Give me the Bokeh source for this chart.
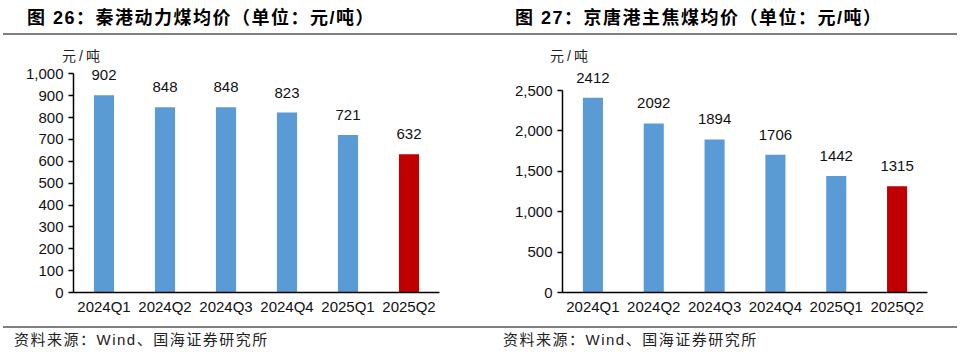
from bokeh.plotting import figure
from bokeh.models import (ColumnDataSource, LabelSet, Div, NumeralTickFormatter,
                          FixedTicker, Range1d)
from bokeh.core.properties import value
from bokeh.layouts import row, column
from bokeh.embed import file_html
from bokeh.resources import INLINE

# ---------------- data ----------------
categories = ["2024Q1", "2024Q2", "2024Q3", "2024Q4", "2025Q1", "2025Q2"]
qinhuangdao_thermal_coal = [902, 848, 848, 823, 721, 632]
jingtang_coking_coal = [2412, 2092, 1894, 1706, 1442, 1315]
left_ticks = [0, 100, 200, 300, 400, 500, 600, 700, 800, 900, 1000]
right_ticks = [0, 500, 1000, 1500, 2000, 2500]
left_title = "图 26：秦港动力煤均价（单位：元/吨）"
right_title = "图 27：京唐港主焦煤均价（单位：元/吨）"
unit_text = "元/吨"
source_text = "资料来源：Wind、国海证券研究所"

BLUE = "#5B9BD5"
RED = "#C00000"
FONT = "'Liberation Sans', 'Noto Sans CJK SC', sans-serif"


def make_panel(values, ticks, y_end, border_left, border_right):
    colors = [BLUE] * (len(values) - 1) + [RED]
    src = ColumnDataSource(dict(cat=categories, val=values, color=colors,
                                label=[str(v) for v in values]))
    p = figure(x_range=categories, y_range=Range1d(0, y_end),
               width=480, height=264, output_backend="svg", toolbar_location=None,
               min_border_left=border_left, min_border_right=border_right,
               min_border_top=2, min_border_bottom=34)
    p.vbar(x="cat", top="val", width=0.33, fill_color="color", line_color=None, source=src)
    labels = LabelSet(x="cat", y="val", text="label", source=src, y_offset=15,
                      text_align="center", text_baseline="alphabetic",
                      text_font=value("Liberation Sans"), text_font_size="15px",
                      text_color="#111111")
    p.add_layout(labels)

    p.xgrid.grid_line_color = None
    p.ygrid.grid_line_color = None
    p.outline_line_color = None
    p.background_fill_color = "white"
    p.border_fill_color = "white"

    ya = p.yaxis[0]
    ya.ticker = FixedTicker(ticks=ticks)
    ya.formatter = NumeralTickFormatter(format="0,0")
    ya.bounds = (0, ticks[-1])
    ya.minor_tick_line_color = None
    ya.major_tick_in = 0
    ya.major_tick_out = 5
    ya.major_tick_line_color = "#000000"
    ya.major_tick_line_width = 1.5
    ya.axis_line_color = "#000000"
    ya.axis_line_width = 1.5
    ya.major_label_standoff = 5
    ya.major_label_text_font = "Liberation Sans"
    ya.major_label_text_font_size = "15px"
    ya.major_label_text_color = "#111111"

    xa = p.xaxis[0]
    xa.major_tick_in = 0
    xa.major_tick_out = 0
    xa.minor_tick_line_color = None
    xa.axis_line_color = "#000000"
    xa.axis_line_width = 1.5
    xa.major_label_standoff = 5
    xa.major_label_text_font = "Liberation Sans"
    xa.major_label_text_font_size = "15px"
    xa.major_label_text_color = "#111111"
    return p


left = make_panel(qinhuangdao_thermal_coal, left_ticks, 1043, 73, 41)
right = make_panel(jingtang_coking_coal, right_ticks, 2822, 82, 33)


def box(left_px, top_px, width_px, height_px, style, text=""):
    return (f'<div style="position:absolute;left:{left_px}px;top:{top_px}px;'
            f'width:{width_px}px;height:{height_px}px;{style}">{text}</div>')


title_style = "font-size:18px;font-weight:bold;letter-spacing:1.5px;white-space:nowrap;line-height:28px;"
unit_style = "font-size:14px;letter-spacing:3px;white-space:nowrap;line-height:20px;color:#222;"
src_style = "font-size:15px;letter-spacing:1.5px;white-space:nowrap;line-height:24px;"

header_html = (
    f'<div style="position:relative;width:960px;height:62px;font-family:{FONT};color:#000;">'
    + box(27, 4, 430, 28, title_style, left_title)
    + box(515, 4, 440, 28, title_style, right_title)
    + box(3, 33, 954, 2, "background:#808080;")
    + box(62, 46, 70, 20, unit_style, unit_text)
    + box(550, 46, 70, 20, unit_style, unit_text)
    + '</div>'
)
footer_html = (
    f'<div style="position:relative;width:960px;height:26px;font-family:{FONT};color:#222;">'
    + box(3, 0, 954, 2, "background:#808080;")
    + box(14, 2, 420, 24, src_style, source_text)
    + box(503, 2, 420, 24, src_style, source_text)
    + '</div>'
)
header_div = Div(text=header_html, width=960, height=62, margin=(0, 0, 0, 0))
footer_div = Div(text=footer_html, width=960, height=26, margin=(0, 0, 0, 0))

layout = column(header_div, row(left, right, spacing=0), footer_div, spacing=0)

with open("out.html", "w") as f:
    f.write(file_html(layout, INLINE))
